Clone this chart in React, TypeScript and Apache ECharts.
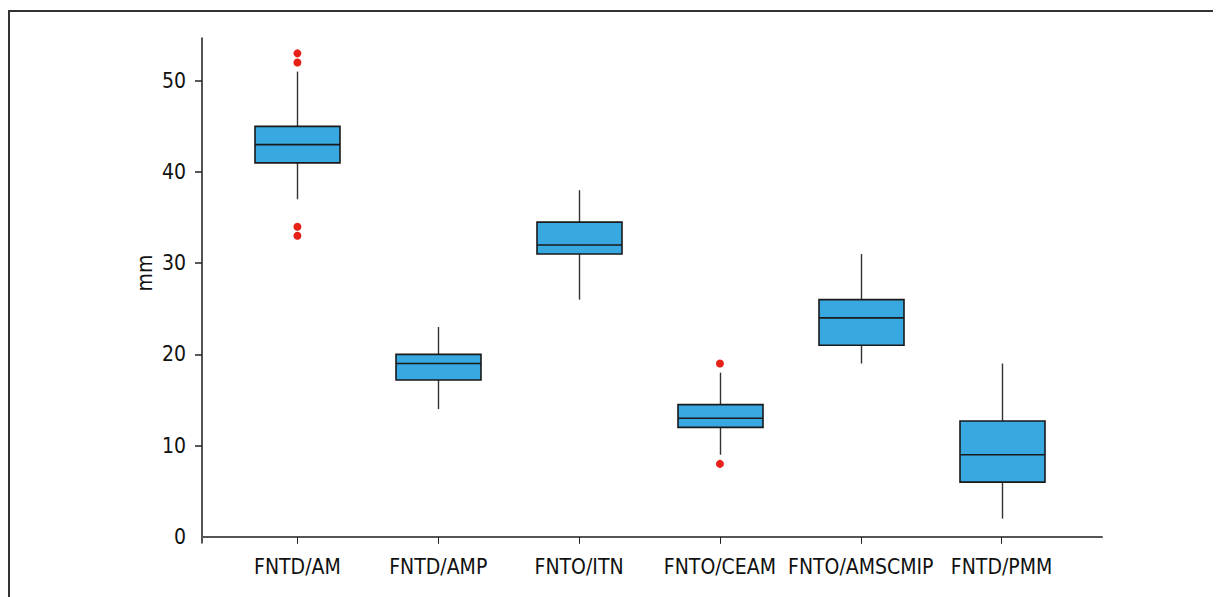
import React, { useEffect, useRef } from "react";
import * as echarts from "echarts";

const categories = ["FNTD/AM", "FNTD/AMP", "FNTO/ITN", "FNTO/CEAM", "FNTO/AMSCMIP", "FNTD/PMM"];
// [min, Q1, median, Q3, max]
const boxValues = [
  [37, 41, 43, 45, 51],
  [14, 17.2, 19, 20, 23],
  [26, 31, 32, 34.5, 38],
  [9, 12, 13, 14.5, 18],
  [19, 21, 24, 26, 31],
  [2, 6, 9, 12.7, 19],
];
// [category index, value]
const outliers = [
  [0, 53],
  [0, 52],
  [0, 34],
  [0, 33],
  [3, 19],
  [3, 8],
];
const yLabels = [0, 10, 20, 30, 40, 50];
const yTickMarks = [10, 20, 30, 40, 50];
const yMin = -0.64;
const yMax = 54.65;

const FONT = "'Liberation Sans Narrow', 'DejaVu Sans Condensed', 'Roboto', sans-serif";

export default function App() {
  const ref = useRef<HTMLDivElement>(null);
  useEffect(() => {
    if (!ref.current) return;
    const chart = echarts.init(ref.current, undefined, { renderer: "svg" });
    const gridTop = 30.3;
    const gridBottom = 54.3;
    const boxData = boxValues.map((b, i) => [i, ...b]);
    chart.setOption({
      animation: false,
      grid: [
        { left: 219, right: 149, top: gridTop, bottom: gridBottom },
        { left: 194, right: 119, top: gridTop, bottom: gridBottom },
      ],
      xAxis: [
        {
          type: "category",
          gridIndex: 0,
          data: categories,
          boundaryGap: true,
          axisLine: { show: false },
          axisTick: { show: true, alignWithLabel: true, interval: 0, length: 7, lineStyle: { color: "#222", width: 1 } },
          axisLabel: { color: "#111", fontSize: 21, fontFamily: FONT, margin: 14, interval: 0 },
          splitLine: { show: false },
        },
        {
          type: "value",
          gridIndex: 1,
          min: 0,
          max: 1,
          axisLine: { show: true, lineStyle: { color: "#555", width: 2 } },
          axisTick: { show: false },
          axisLabel: { show: false },
          splitLine: { show: false },
        },
      ],
      yAxis: [
        {
          type: "value",
          gridIndex: 0,
          min: yMin,
          max: yMax,
          show: false,
          splitLine: { show: false },
        },
        {
          type: "value",
          gridIndex: 1,
          min: yMin,
          max: yMax,
          axisLine: { show: true, lineStyle: { color: "#555", width: 2 } },
          axisTick: { show: true, length: 7, lineStyle: { color: "#222", width: 1.5 }, customValues: yTickMarks },
          axisLabel: { color: "#111", fontSize: 21, fontFamily: FONT, margin: 16, customValues: yLabels },
          splitLine: { show: false },
        },
      ],
      series: [
        {
          type: "custom",
          xAxisIndex: 0,
          yAxisIndex: 0,
          data: boxData,
          encode: { x: 0, y: [1, 2, 3, 4, 5] },
          renderItem: (params: any, api: any) => {
            const idx = api.value(0);
            const pMin = api.coord([idx, api.value(1)]);
            const pQ1 = api.coord([idx, api.value(2)]);
            const pMed = api.coord([idx, api.value(3)]);
            const pQ3 = api.coord([idx, api.value(4)]);
            const pMax = api.coord([idx, api.value(5)]);
            const half = 42.5;
            const cx = Math.round(pMin[0]) + 0.5;
            const whisker = { stroke: "#333", lineWidth: 1.4 };
            return {
              type: "group",
              children: [
                { type: "line", shape: { x1: cx, y1: pMax[1], x2: cx, y2: pQ3[1] }, style: whisker },
                { type: "line", shape: { x1: cx, y1: pQ1[1], x2: cx, y2: pMin[1] }, style: whisker },
                {
                  type: "rect",
                  shape: { x: cx - half, y: pQ3[1], width: half * 2, height: pQ1[1] - pQ3[1] },
                  style: { fill: "#38A9E0", stroke: "#1a1a1a", lineWidth: 1.6 },
                },
                {
                  type: "line",
                  shape: { x1: cx - half, y1: pMed[1], x2: cx + half, y2: pMed[1] },
                  style: { stroke: "#1a1a1a", lineWidth: 1.6 },
                },
              ],
            };
          },
        },
        {
          type: "scatter",
          xAxisIndex: 0,
          yAxisIndex: 0,
          data: outliers,
          symbol: "circle",
          symbolSize: 8,
          itemStyle: { color: "#E62117", opacity: 1 },
          emphasis: { disabled: true },
        },
      ],
      graphic: [
        {
          type: "polyline",
          shape: { points: [[1, 589], [1, 3], [1213, 3]] },
          style: { stroke: "#333", lineWidth: 2, fill: "none" },
        },
        {
          type: "text",
          x: 137,
          y: 265,
          rotation: Math.PI / 2,
          style: {
            text: "mm",
            fontSize: 21,
            fontFamily: FONT,
            fill: "#111",
            align: "center",
            verticalAlign: "middle",
          },
        },
      ],
    });
    return () => chart.dispose();
  }, []);
  return <div ref={ref} style={{ width: 1213, height: 589 }} />;
}
